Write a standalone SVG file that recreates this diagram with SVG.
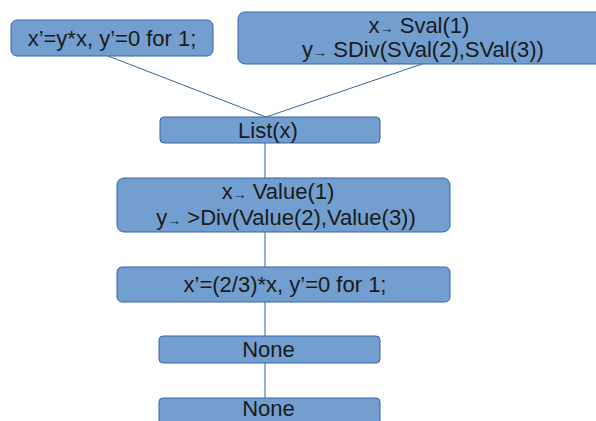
<svg xmlns="http://www.w3.org/2000/svg" width="596" height="421" viewBox="0 0 596 421">
<style>
.n{fill:#729fcf;stroke:#3465a4;stroke-width:1}
.t{font-family:"Liberation Sans",Arial,sans-serif;font-size:22px;fill:#1a1a1a;text-anchor:middle}
.a{font-size:14px}
.c{stroke:#3465a4;stroke-width:1;fill:none}
</style>
<rect width="596" height="421" fill="#ffffff"/>
<g id="connectors">
<line class="c" x1="108" y1="56" x2="266" y2="117"/>
<line class="c" x1="422" y1="64" x2="266" y2="117"/>
<line class="c" x1="265" y1="143" x2="265" y2="178"/>
<line class="c" x1="265" y1="232" x2="265" y2="267"/>
<line class="c" x1="265" y1="302" x2="265" y2="336"/>
<line class="c" x1="265" y1="363" x2="265" y2="398"/>
</g>
<g id="n1">
<rect class="n" x="11" y="20" width="202" height="36" rx="6"/>
<text class="t" x="112" y="46">x’=y*x, y’=0 for 1;</text>
</g>
<g id="n2">
<rect class="n" x="238" y="12" width="366" height="52" rx="7"/>
<text class="t" x="419" y="33">x<tspan class="a">→</tspan> Sval(1)</text>
<text class="t" x="423" y="57">y<tspan class="a">→</tspan> SDiv(SVal(2),SVal(3))</text>
</g>
<g id="n3">
<rect class="n" x="160" y="117" width="220" height="26" rx="4"/>
<text class="t" x="268" y="138">List(x)</text>
</g>
<g id="n4">
<rect class="n" x="117" y="178" width="333" height="54" rx="7"/>
<text class="t" x="278" y="199">x<tspan class="a">→</tspan> Value(1)</text>
<text class="t" x="286" y="225">y<tspan class="a">→</tspan> &gt;Div(Value(2),Value(3))</text>
</g>
<g id="n5">
<rect class="n" x="117" y="267" width="333" height="35" rx="5"/>
<text class="t" x="285" y="292">x’=(2/3)*x, y’=0 for 1;</text>
</g>
<g id="n6">
<rect class="n" x="159" y="336" width="221" height="27" rx="4"/>
<text class="t" x="268.5" y="357">None</text>
</g>
<g id="n7">
<rect class="n" x="159" y="398" width="221" height="30" rx="4"/>
<text class="t" x="268.5" y="416">None</text>
</g>
</svg>
